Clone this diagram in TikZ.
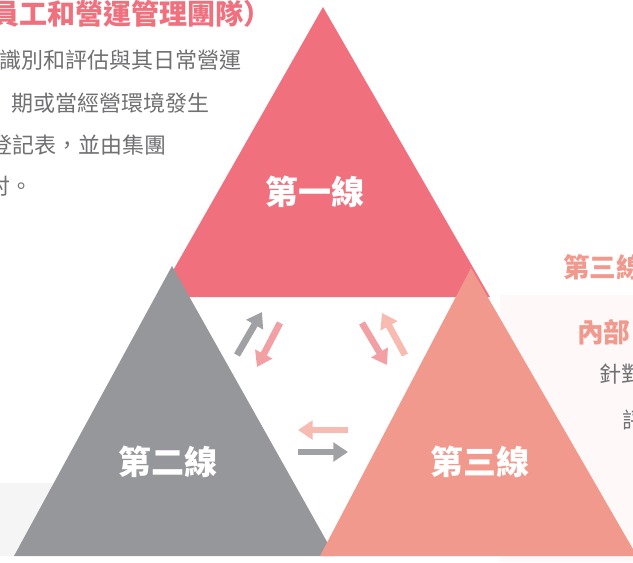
\documentclass[tikz,border=0pt]{standalone}
\usepackage{fontspec}
\setmainfont{Noto Sans CJK TC}
\usetikzlibrary{arrows.meta}

\definecolor{lineone}{RGB}{240,112,126}
\definecolor{linetwo}{RGB}{150,151,155}
\definecolor{linethree}{RGB}{242,153,142}
\definecolor{bodygray}{RGB}{112,112,115}
\definecolor{arrgray}{RGB}{160,161,165}
\definecolor{arrpink}{RGB}{243,160,164}
\definecolor{arrpeach}{RGB}{248,187,177}

\tikzset{
  flow/.style={line width=5pt, -{Triangle[length=11pt,width=14pt]}},
  bodytext/.style={anchor=west, inner sep=0pt, text=bodygray, font=\fontsize{16.5}{16.5}\selectfont},
  headtext/.style={anchor=west, inner sep=0pt, font=\fontsize{20}{20}\selectfont\bfseries},
  tritext/.style={inner sep=0pt, text=white, font=\fontsize{24.75}{24.75}\selectfont\bfseries}
}

\begin{document}
\begin{tikzpicture}[x=0.75pt,y=-0.75pt]
    \useasboundingbox (0,0) rectangle (633,562);
    \clip (0,0) rectangle (633,562);
    % pale panels behind
    \fill[black!4] (0,483) rectangle (240,556);
    \fill[linethree!6] (500,295) rectangle (633,562);
    % the three triangles
    \fill[lineone] (323,7) -- (490,297) -- (158,297) -- cycle;
    \fill[linetwo] (172,266) -- (335,556) -- (14,556) -- cycle;
    \fill[linethree] (471,268) -- (637,556) -- (320,556) -- cycle;
    % labels
    \begin{scope}[every node/.style={tritext}]
        \node (one) at (315,192) {第一線};
        \node (two) at (168,462) {第二線};
        \node (three) at (480,462) {第三線};
    \end{scope}
    % text round the picture
    \node[headtext, text=lineone, font=\fontsize{21}{21}\selectfont\bfseries] (head) at (-9,14) {員工和營運管理團隊）};
    \node[bodytext] (body1) at (-1,60) {識別和評估與其日常營運};
    \node[bodytext] (body2) at (11,103) {期或當經營環境發生};
    \node[bodytext] (body3) at (-10,145) {登記表，並由集團};
    \node[bodytext] (body4) at (-12,186) {討。};
    \node[headtext, text=linethree] (headr) at (563,267) {第三線};
    \node[headtext, text=linethree] (inner) at (577,332) {內部};
    \node[bodytext] (bodyr1) at (599,374) {針對};
    \node[bodytext] (bodyr2) at (622,420) {評};
    % arrow ends
    \coordinate (a1) at (237,355);
    \coordinate (b1) at (262,312);
    \coordinate (a2) at (280,323);
    \coordinate (b2) at (257,367);
    \coordinate (a3) at (362,323);
    \coordinate (b3) at (387,365);
    \coordinate (a4) at (405,355);
    \coordinate (b4) at (382,313);
    \coordinate (a5) at (348,430);
    \coordinate (b5) at (298,430);
    \coordinate (a6) at (298,452);
    \coordinate (b6) at (348,452);
    \begin{scope}[every path/.style={flow}]
        \draw[arrgray] (a1) -- (b1);
        \draw[arrpink] (a2) -- (b2);
        \draw[arrpink] (a3) -- (b3);
        \draw[arrpeach] (a4) -- (b4);
        \draw[arrpeach] (a5) -- (b5);
        \draw[arrgray] (a6) -- (b6);
    \end{scope}
\end{tikzpicture}
\end{document}
